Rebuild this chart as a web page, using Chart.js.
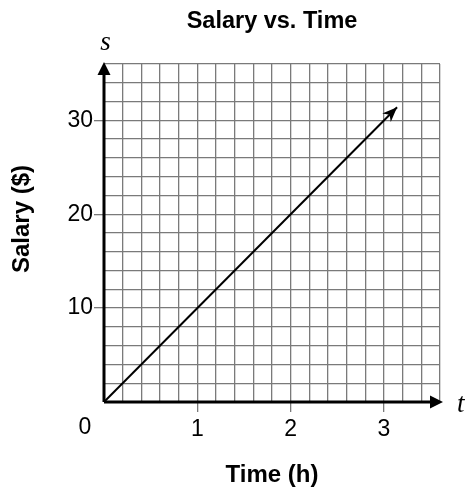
<!DOCTYPE html>
<html>
<head>
<meta charset="utf-8">
<script src="https://cdn.jsdelivr.net/npm/chart.js"></script>
<style>
  body { margin: 0; background: #fff; }
  #wrap { width: 466px; height: 493px; }
</style>
</head>
<body>
<div id="wrap"><canvas id="chart"></canvas></div>
<script>
// data
const timeValues = [0, 3.14];     // hours
const salaryValues = [0, 31.4];   // dollars
const xTickLabels = [1, 2, 3];
const yTickLabels = [10, 20, 30];

const FONT = '"Liberation Sans", Arial, Helvetica, sans-serif';
const GRID = '#7a7a7a';

function arrowHead(ctx, tipX, tipY, angle, len, half) {
    ctx.save();
    ctx.translate(tipX, tipY);
    ctx.rotate(angle);
    ctx.beginPath();
    ctx.moveTo(0, 0);
    ctx.lineTo(-len, -half);
    ctx.lineTo(-len * 0.7, 0);
    ctx.lineTo(-len, half);
    ctx.closePath();
    ctx.fill();
    ctx.restore();
}

// axes with arrows, the origin "0", the s / t letters and the y title
const axesPlugin = {
    id: 'axesPlugin',
    afterDatasetsDraw(chart) {
        const ctx = chart.ctx;
        const xs = chart.scales.x, ys = chart.scales.y;
        const x0 = xs.getPixelForValue(0), y0 = ys.getPixelForValue(0);
        const xEnd = xs.getPixelForValue(xs.max) + 3;
        const yEnd = ys.getPixelForValue(ys.max) - 2;
        ctx.save();
        ctx.strokeStyle = '#000';
        ctx.fillStyle = '#000';
        ctx.lineWidth = 3;
        ctx.beginPath();
        ctx.moveTo(x0, y0);
        ctx.lineTo(xEnd - 8, y0);
        ctx.moveTo(x0, y0);
        ctx.lineTo(x0, yEnd + 8);
        ctx.stroke();
        ctx.beginPath();
        ctx.moveTo(xEnd, y0);
        ctx.lineTo(xEnd - 13, y0 - 6.5);
        ctx.lineTo(xEnd - 13, y0 + 6.5);
        ctx.closePath();
        ctx.fill();
        ctx.beginPath();
        ctx.moveTo(x0, yEnd);
        ctx.lineTo(x0 - 6.5, yEnd + 13);
        ctx.lineTo(x0 + 6.5, yEnd + 13);
        ctx.closePath();
        ctx.fill();

        // arrow at the end of the salary line
        const pts = chart.getDatasetMeta(0).data;
        const a = pts[pts.length - 2], b = pts[pts.length - 1];
        arrowHead(ctx, b.x, b.y, Math.atan2(b.y - a.y, b.x - a.x), 15, 6);

        ctx.font = '23px ' + FONT;
        ctx.textAlign = 'center';
        ctx.textBaseline = 'top';
        ctx.fillText('0', x0 - 19, y0 + 14);

        ctx.font = 'italic 27px "Liberation Serif", "Times New Roman", serif';
        ctx.textAlign = 'center';
        ctx.textBaseline = 'alphabetic';
        ctx.fillText('s', x0 + 1.5, 50);
        ctx.textAlign = 'left';
        ctx.fillText('t', xEnd + 14, y0 + 10);

        // y axis title
        ctx.translate(22, 219);
        ctx.rotate(-Math.PI / 2);
        ctx.font = 'bold 24px ' + FONT;
        ctx.textAlign = 'center';
        ctx.textBaseline = 'middle';
        ctx.fillText('Salary ($)', 0, 0);
        ctx.restore();
    }
};

new Chart(document.getElementById('chart'), {
    type: 'line',
    data: {
        datasets: [{
            label: 'Salary',
            data: timeValues.map((t, i) => ({ x: t, y: salaryValues[i] })),
            borderColor: '#000',
            borderWidth: 2,
            pointRadius: 0,
            fill: false
        }]
    },
    options: {
        responsive: true,
        maintainAspectRatio: false,
        animation: false,
        layout: { padding: { left: 0, right: 26, top: 0, bottom: 0 } },
        plugins: {
            legend: { display: false },
            tooltip: { enabled: false },
            title: {
                display: true,
                text: 'Salary vs. Time',
                fullSize: false,
                color: '#000',
                font: { family: FONT, size: 23.5, weight: 'bold' },
                padding: { top: 7, bottom: 28.8 }
            }
        },
        scales: {
            x: {
                type: 'linear',
                min: 0,
                max: 3.6,
                afterFit: s => { s.height = 91; },
                border: { display: false },
                grid: {
                    color: GRID,
                    lineWidth: 1.3,
                    tickLength: 10,
                    tickColor: c => xTickLabels.includes(Math.round(c.tick.value * 1000) / 1000) ? GRID : 'rgba(0,0,0,0)'
                },
                ticks: {
                    stepSize: 0.2,
                    autoSkip: false,
                    maxRotation: 0,
                    padding: 4,
                    color: '#000',
                    font: { family: FONT, size: 23 },
                    callback: v => xTickLabels.includes(Math.round(v * 1000) / 1000) ? String(Math.round(v)) : ''
                },
                title: {
                    display: true,
                    text: 'Time (h)',
                    color: '#000',
                    font: { family: FONT, size: 24, weight: 'bold' },
                    padding: { top: 0, bottom: 3 }
                }
            },
            y: {
                type: 'linear',
                min: 0,
                max: 36,
                afterFit: s => { s.width = 104; },
                border: { display: false },
                grid: {
                    color: GRID,
                    lineWidth: 1.3,
                    tickLength: 10,
                    tickColor: c => yTickLabels.includes(Math.round(c.tick.value)) ? GRID : 'rgba(0,0,0,0)'
                },
                ticks: {
                    stepSize: 2,
                    autoSkip: false,
                    padding: 1,
                    color: '#000',
                    font: { family: FONT, size: 23 },
                    callback: v => yTickLabels.includes(Math.round(v)) ? String(Math.round(v)) : ''
                },
                title: { display: false }
            }
        }
    },
    plugins: [axesPlugin]
});
</script>
</body>
</html>
